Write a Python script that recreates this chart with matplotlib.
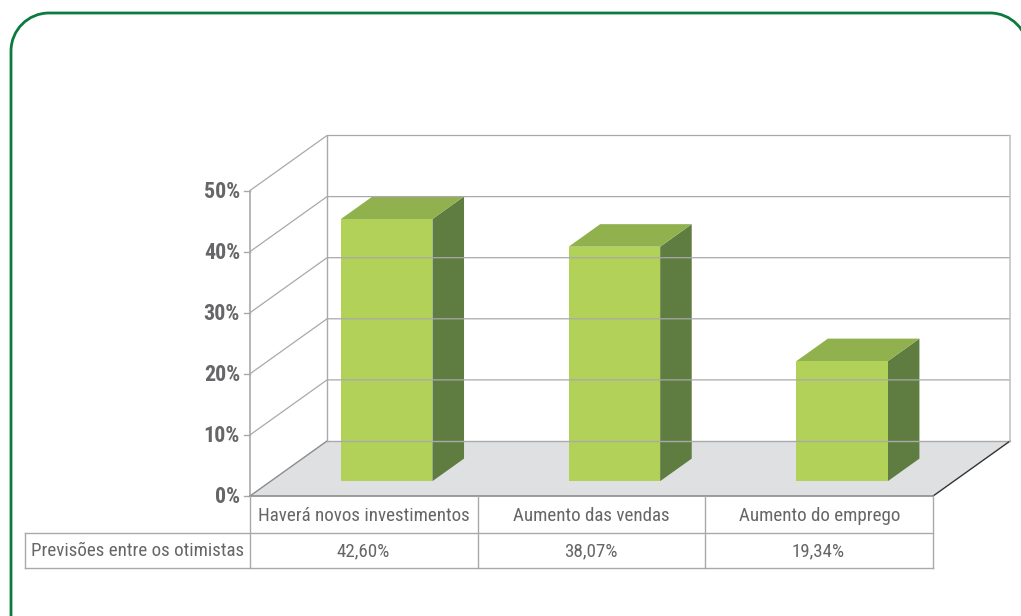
import numpy as np
import matplotlib
matplotlib.use("Agg")
import matplotlib.pyplot as plt
from matplotlib.patches import Polygon, PathPatch
from matplotlib.path import Path

categorias = ["Haverá novos investimentos", "Aumento das vendas", "Aumento do emprego"]
valores = [42.60, 38.07, 19.34]
rotulos_valores = ["42,60%", "38,07%", "19,34%"]
ticks = [0, 10, 20, 30, 40, 50]
serie = "Previsões entre os otimistas"

VERDE = "#b2d159"
VERDE_TOPO = "#90b14d"
VERDE_LADO = "#5f7d40"
GRADE = "#a9a9ab"
TEXTO = "#666668"
CHAO = "#dfe0e2"
BORDA = "#0a7a3e"

plt.rcParams["font.family"] = ["Roboto Condensed", "Archivo Narrow", "Liberation Sans", "DejaVu Sans"]

x0, y0 = 250, 496
escala = 6.11
dx, dy = 77, -55
largura = 227.7
x_dir = x0 + 3 * largura


def proj(x, v, prof=0.0):
    # x em categorias, v em %, prof de 0 (frente) a 1 (fundo)
    return (x0 + x * largura + prof * dx, y0 - v * escala + prof * dy)


fig = plt.figure(figsize=(10.21, 6.16), dpi=100)
ax = fig.add_axes([0, 0, 1, 1])
ax.set_xlim(0, 1021)
ax.set_ylim(616, 0)
ax.axis("off")

# moldura verde, o canto direito sai da imagem
r = 38
k = 0.5523 * r
xe, xd, yt = 11, 990, 13
moldura = Path(
    [(xe, 620), (xe, yt + r),
     (xe, yt + r - k), (xe + r - k, yt), (xe + r, yt),
     (xd, yt),
     (xd + k, yt), (xd + r, yt + r - k), (xd + r, yt + r)],
    [Path.MOVETO, Path.LINETO,
     Path.CURVE4, Path.CURVE4, Path.CURVE4,
     Path.LINETO,
     Path.CURVE4, Path.CURVE4, Path.CURVE4],
)
ax.add_patch(PathPatch(moldura, fill=False, edgecolor=BORDA, linewidth=2.0, clip_on=False))

# chao
ax.add_patch(Polygon([proj(0, 0), proj(3, 0), proj(3, 0, 1), proj(0, 0, 1)], facecolor=CHAO, edgecolor="none"))
ax.plot(*zip(proj(0, 0), proj(0, 0, 1)), color="#8c8c8e", lw=1)
ax.plot(*zip(proj(0, 0, 1), proj(3, 0, 1)), color=GRADE, lw=1)
ax.plot(*zip(proj(3, 0), proj(3, 0, 1)), color="#333333", lw=1)

# paredes e grade
for t in ticks[1:]:
    ax.plot(*zip(proj(0, t), proj(0, t, 1), proj(3, t, 1)), color=GRADE, lw=0.9)
ax.plot(*zip(proj(0, 0), proj(0, 50)), color=GRADE, lw=1.2)
ax.plot(*zip(proj(0, 0, 1), proj(0, 50, 1)), color=GRADE, lw=1)
ax.plot(*zip(proj(3, 0, 1), proj(3, 50, 1)), color="#c4c4c6", lw=1.2)

for t in ticks:
    px, py = proj(0, t)
    ax.plot([px - 6, px], [py, py], color=GRADE, lw=1)
    ax.text(px - 10, py + 1, f"{t}%", ha="right", va="center", fontsize=15.8, fontweight="bold", color=TEXTO)

# barras
for i, v in enumerate(valores):
    a = i + 0.308
    b = a + 0.402
    p1, p2 = 0.27, 0.68
    base = 0
    topo = v + 0.3
    ax.add_patch(Polygon([proj(b, base, p1), proj(b, base, p2), proj(b, topo, p2), proj(b, topo, p1)], facecolor=VERDE_LADO, edgecolor="none"))
    ax.add_patch(Polygon([proj(a, topo, p1), proj(b, topo, p1), proj(b, topo, p2), proj(a, topo, p2)], facecolor=VERDE_TOPO, edgecolor="none"))
    ax.add_patch(Polygon([proj(a, base, p1), proj(b, base, p1), proj(b, topo, p1), proj(a, topo, p1)], facecolor=VERDE, edgecolor="none"))

# tabela
y1, y2 = 533, 568
esq = 25
ax.plot([x0, x_dir], [y0, y0], color="#8c8c8e", lw=1.2)
ax.plot([esq, x_dir], [y1, y1], color=GRADE, lw=1)
ax.plot([esq, x_dir], [y2, y2], color=GRADE, lw=1)
ax.plot([esq, esq], [y1, y2], color=GRADE, lw=1)
for i in range(4):
    px = x0 + i * largura
    ax.plot([px, px], [y0, y2], color=GRADE, lw=1)

for i, (c, r_v) in enumerate(zip(categorias, rotulos_valores)):
    cx = x0 + (i + 0.5) * largura
    ax.text(cx, (y0 + y1) / 2 + 1.5, c, ha="center", va="center", fontsize=13.7, color=TEXTO)
    ax.text(cx - 1, (y1 + y2) / 2 + 1, r_v, ha="center", va="center", fontsize=13.7, color=TEXTO)
ax.text((esq + x0) / 2, (y1 + y2) / 2 + 1, serie, ha="center", va="center", fontsize=13.7, color=TEXTO)

fig.savefig("out.png", dpi=100)
